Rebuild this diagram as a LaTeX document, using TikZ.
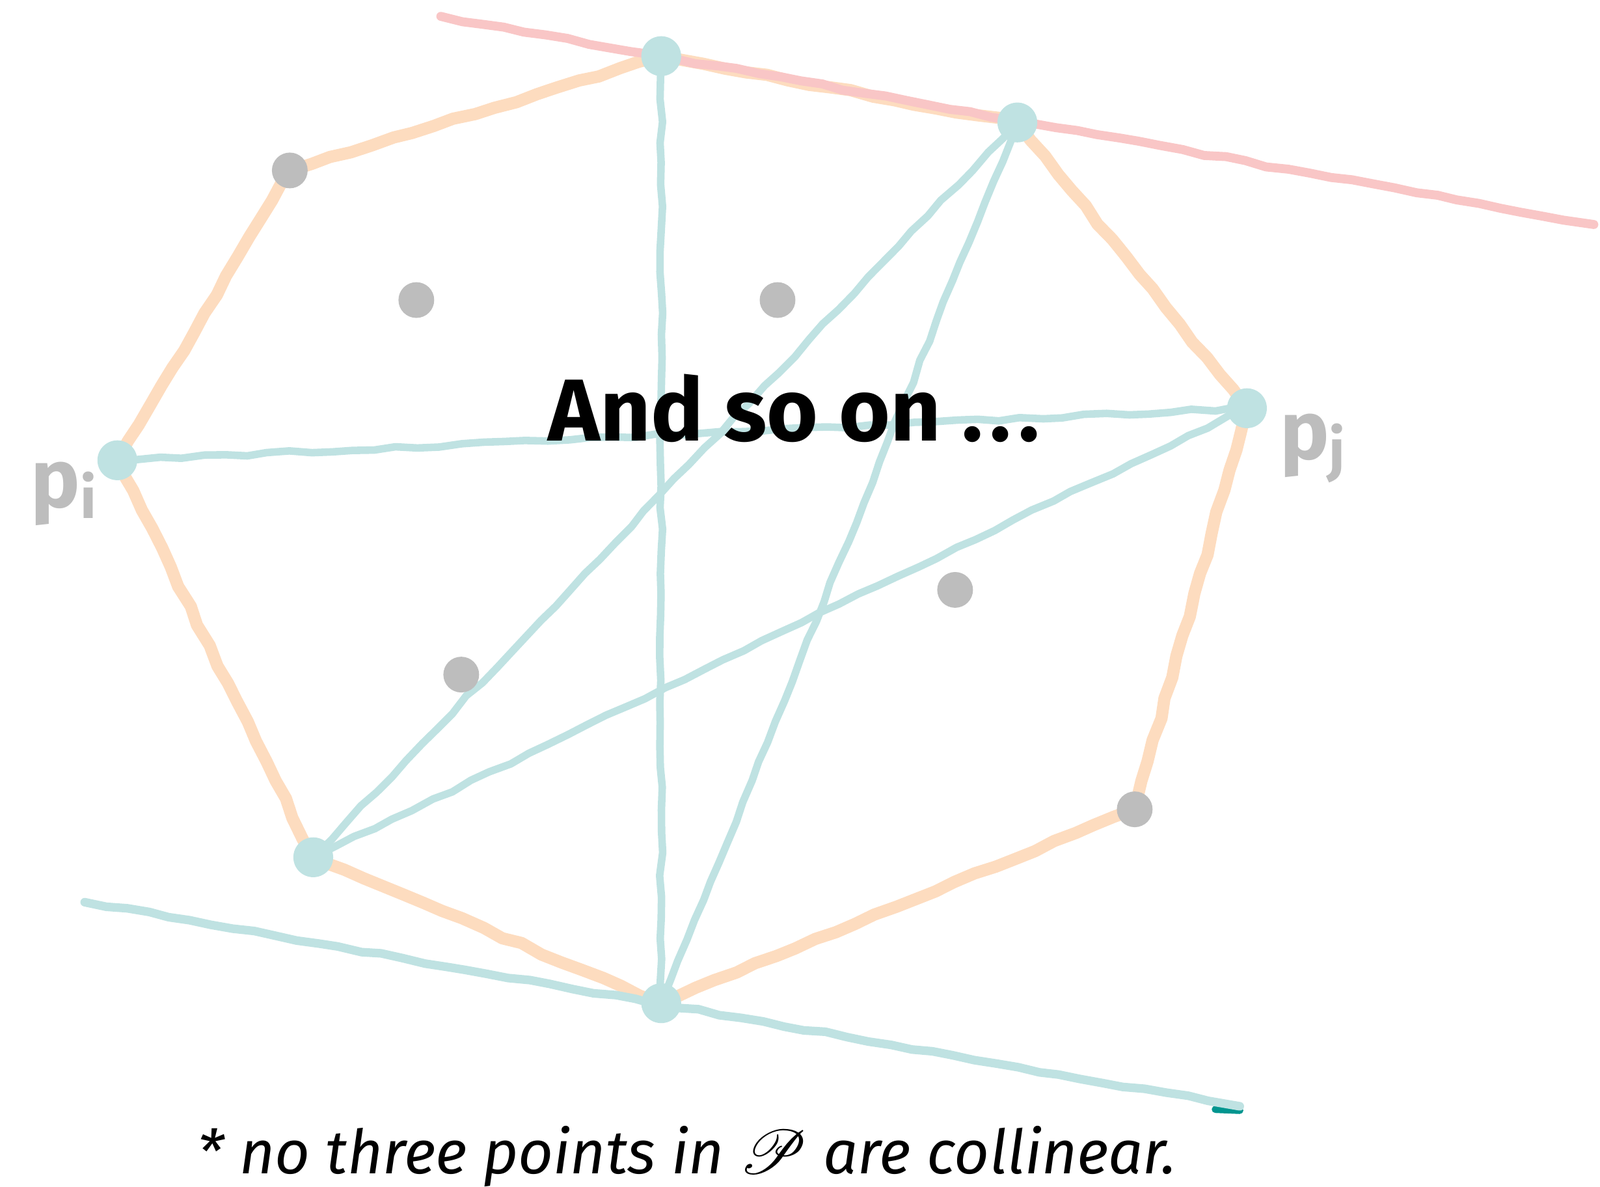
\documentclass[tikz,border=0pt]{standalone}
\usepackage{fontspec}
\usepackage{amsmath,mathrsfs}
\setmainfont{Fira Sans}
\usetikzlibrary{positioning,calc,decorations.pathmorphing}
\definecolor{hullcol}{HTML}{FDDCBF}
\definecolor{tealcol}{HTML}{BFE2E2}
\definecolor{redcol}{HTML}{F9C6C6}
\definecolor{greycol}{HTML}{BDBDBD}
\definecolor{darkteal}{HTML}{00958F}
\tikzset{
  rough/.style={decorate,decoration={random steps,segment length=6pt,amplitude=0.45pt}},
  hull/.style={hullcol,line width=3.4pt,line cap=round,line join=round,rough},
  chord/.style={tealcol,line width=2.1pt,line cap=round,line join=round,rough},
  support/.style={redcol,line width=2.5pt,line cap=round,line join=round,rough},
  tealdot/.style={circle,fill=tealcol,inner sep=0pt,minimum size=0.39cm},
  greydot/.style={circle,fill=greycol,inner sep=0pt,minimum size=0.35cm},
  plabel/.style={text=greycol,font=\fontsize{23}{23}\selectfont\bfseries}
}
\begin{document}
\begin{tikzpicture}[x=0.01cm,y=-0.01cm]
  \useasboundingbox (0,0) rectangle (1568,1163);
  % points of the set
  \coordinate (pi) at (115,451);
  \coordinate (a) at (284,167);
  \coordinate (t) at (648,55);
  \coordinate (r) at (997,120);
  \coordinate (pj) at (1222,400);
  \coordinate (g) at (1112,793);
  \coordinate (b) at (648,983);
  \coordinate (l) at (307,840);
  % free ends of the two lines
  \coordinate (redA) at (432,16);
  \coordinate (redB) at (1562,220);
  \coordinate (botA) at (83,884);
  \coordinate (botB) at (1215,1087);

  % hull
  \draw[hull] (pi) -- (a) -- (t) -- (r) -- (pj) -- (g) -- (b) -- (l) -- cycle;

  % chords
  \draw[chord] (pi) -- (pj);
  \draw[chord] (t) -- (b);
  \draw[chord] (r) -- (l);
  \draw[chord] (r) -- (b);
  \draw[chord] (pj) -- (l);

  % supporting lines
  \draw[support] (redA) -- (redB);
  \draw[darkteal,line width=2pt,line cap=round] ($(botB)+(-24,0)$) -- ($(botB)+(0,1)$);
  \draw[chord,line width=2.4pt] (botA) -- ($(botB)+(0,-3)$);

  % dots
  \foreach \p in {pi,t,r,pj,b,l} {
    \node[tealdot] (\p dot) at (\p) {};
  }
  \foreach \p in {a,g} {
    \node[greydot] (\p dot) at (\p) {};
  }
  \foreach \x/\y [count=\k] in {408/294,762/294,936/578,452/661} {
    \node[greydot] (in\k) at (\x,\y) {};
  }

  % labels
  \node[plabel,anchor=base west] (lpi) at (18,497) {p\raisebox{-0.25ex}{\fontsize{16}{16}\selectfont i}};
  \node[plabel,anchor=base west] (lpj) at (1242,450) {p\raisebox{-0.25ex}{\fontsize{16}{16}\selectfont j}};
  \node[anchor=base,font=\fontsize{24.5}{24.5}\selectfont\bfseries] (more) at (778,432) {And so on .\kern0.08em.\kern0.08em.};
  \node[anchor=base,font=\fontsize{17}{17}\selectfont\itshape] (note) at (673,1150) {* no three points in $\mathscr{P}$ are collinear.};
\end{tikzpicture}
\end{document}
